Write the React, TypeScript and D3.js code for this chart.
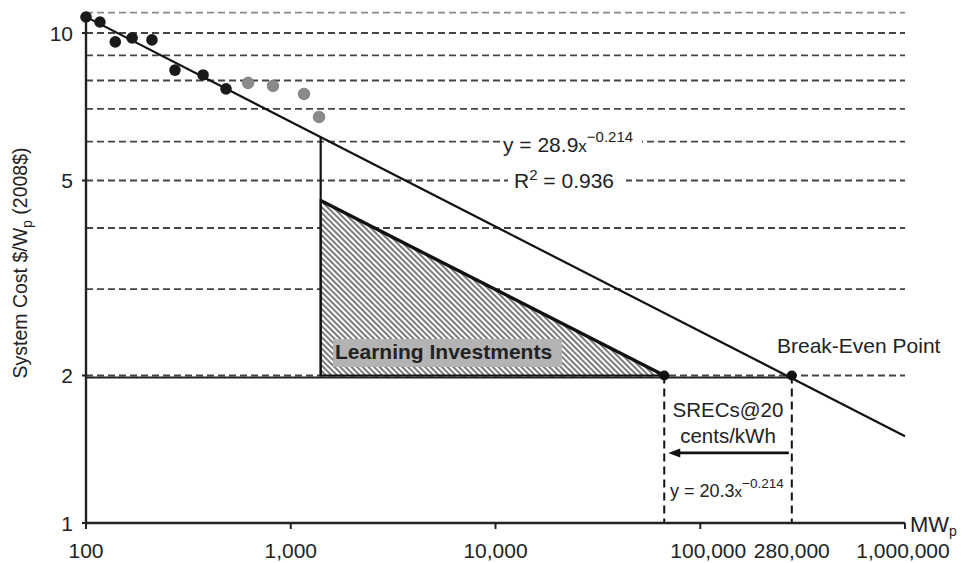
import React from "react";
import * as d3 from "d3";

// ---- data ----
const histX = [100, 117, 139, 168, 210, 272, 373, 483];
const histY = [10.78, 10.53, 9.59, 9.77, 9.68, 8.4, 8.21, 7.69];
const recentX = [619, 819, 1161, 1375];
const recentY = [7.91, 7.8, 7.51, 6.74];
const gridValues = [2, 3, 4, 5, 6, 7, 8, 9, 10, 11];
const yTickValues = [1, 2, 5, 10];
const yTickLabels = ["1", "2", "5", "10"];
const xTickValues = [100, 1000, 10000, 100000, 1000000];
const xLabelValues = [100, 1000, 10000, 100000, 280000, 1000000];
const xLabelTexts = ["100", "1,000", "10,000", "100,000", "280,000", "1,000,000"];
const fitA = 28.9;
const fitB = -0.214;
const fitRange = [100, 1000000];
const learnStartX = 1400;
const learnTopY = 4.55;
const learnEndX = 66700;
const targetCost = 2;
const breakEvenX = 280000;
const arrowY = 1.39;

const W = 971;
const H = 563;
const FONT = "'Liberation Sans', Arial, Helvetica, sans-serif";

export default function App() {
  const x = d3.scaleLog().domain([100, 1000000]).range([86, 905]);
  const y = d3.scaleLog().domain([1, 10]).range([523, 33]);
  const fit = (v: number) => fitA * Math.pow(v, fitB);
  const line = d3
    .line<[number, number]>()
    .x((d) => x(d[0]))
    .y((d) => y(d[1]));

  const fitPts: [number, number][] = fitRange.map((v) => [v, fit(v)]);
  const tri: [number, number][] = [
    [learnStartX, learnTopY],
    [learnEndX, targetCost],
    [learnStartX, targetCost],
  ];
  const hyp: [number, number][] = [
    [learnStartX, learnTopY],
    [learnEndX, targetCost],
  ];

  const xMid = Math.sqrt(learnEndX * breakEvenX);

  return (
    <svg
      width={W}
      height={H}
      style={{ position: "absolute", left: 0, top: 0, background: "#fff" }}
      fontFamily={FONT}
    >
      <defs>
        <pattern
          id="hatch"
          width="4"
          height="4"
          patternUnits="userSpaceOnUse"
          patternTransform="rotate(-45)"
        >
          <rect width="4" height="4" fill="#fff" />
          <line x1="1" y1="0" x2="1" y2="4" stroke="#444" strokeWidth="1.4" />
        </pattern>
      </defs>
      <rect width={W} height={H} fill="#fff" />

      {/* gridlines */}
      {gridValues.map((g) => (
        <line
          key={g}
          x1={x(100)}
          x2={x(1000000)}
          y1={y(g)}
          y2={y(g)}
          stroke={g === 11 ? "#8a8a8a" : "#444"}
          strokeWidth={1.8}
          strokeDasharray="7,4"
        />
      ))}

      {/* learning investment triangle */}
      <path d={line(tri) + "Z"} fill="url(#hatch)" stroke="#111" strokeWidth={2} />
      <path d={line(hyp) || ""} fill="none" stroke="#111" strokeWidth={3.4} />

      {/* vertical from fit line to target */}
      <line
        x1={x(learnStartX)}
        x2={x(learnStartX)}
        y1={y(fit(learnStartX))}
        y2={y(targetCost)}
        stroke="#111"
        strokeWidth={2.2}
      />

      {/* horizontal solid at target cost */}
      <line
        x1={x(100)}
        x2={x(breakEvenX)}
        y1={y(targetCost) + 2}
        y2={y(targetCost) + 2}
        stroke="#222"
        strokeWidth={2.2}
      />

      {/* dashed verticals */}
      {[learnEndX, breakEvenX].map((v) => (
        <line
          key={v}
          x1={x(v)}
          x2={x(v)}
          y1={y(targetCost)}
          y2={y(1)}
          stroke="#111"
          strokeWidth={2}
          strokeDasharray="8,5"
        />
      ))}

      {/* fit line */}
      <path d={line(fitPts) || ""} fill="none" stroke="#111" strokeWidth={2.2} />

      {/* axes */}
      <line x1={x(100)} x2={x(100)} y1={y(1)} y2={y(11)} stroke="#222" strokeWidth={2.4} />
      <line x1={x(100)} x2={x(1000000)} y1={y(1)} y2={y(1)} stroke="#222" strokeWidth={2.4} />
      {yTickValues.map((v) => (
        <line key={v} x1={x(100) - 4} x2={x(100)} y1={y(v)} y2={y(v)} stroke="#222" strokeWidth={2} />
      ))}
      {xTickValues.map((v) => (
        <line key={v} x1={x(v)} x2={x(v)} y1={y(1)} y2={y(1) + 6} stroke="#222" strokeWidth={2} />
      ))}

      {/* tick labels */}
      {yTickValues.map((v, i) => (
        <text
          key={v}
          x={73}
          y={y(v)}
          dy="0.36em"
          textAnchor="end"
          fontSize={21}
          fill="#222"
        >
          {yTickLabels[i]}
        </text>
      ))}
      {xLabelValues.map((v, i) => (
        <text
          key={v}
          x={x(v) + (v === 100000 ? 8 : v === 1000000 ? -2 : 0)}
          y={558}
          textAnchor="middle"
          fontSize={21}
          fill="#222"
        >
          {xLabelTexts[i]}
        </text>
      ))}

      {/* axis titles */}
      <text x={910} y={532} fontSize={22} fill="#222">
        MW
        <tspan fontSize={14} dy={4}>
          p
        </tspan>
      </text>
      <text
        transform="translate(27,263) rotate(-90)"
        textAnchor="middle"
        fontSize={19.5}
        fill="#222"
      >
        System Cost $/W
        <tspan fontSize={14} dy={5}>
          p
        </tspan>
        <tspan dy={-5}> (2008$)</tspan>
      </text>

      {/* data points */}
      {recentX.map((v, i) => (
        <circle key={"r" + i} cx={x(v)} cy={y(recentY[i])} r={5.8} fill="#8a8a8a" stroke="#777" strokeWidth={0.8} />
      ))}
      {histX.map((v, i) => (
        <circle key={"h" + i} cx={x(v)} cy={y(histY[i])} r={5.8} fill="#1a1a1a" />
      ))}

      {/* key points */}
      <circle cx={x(learnEndX)} cy={y(targetCost)} r={5} fill="#111" />
      <circle cx={x(breakEvenX)} cy={y(targetCost)} r={5} fill="#111" />

      {/* equation labels */}
      <rect x={500} y={131} width={142} height={26} fill="#fff" />
      <text x={503} y={152} fontSize={21} fill="#222">
        y = 28.9
        <tspan fontSize={17}>x</tspan>
        <tspan fontSize={15} dy={-10}>−0.214</tspan>
      </text>
      <rect x={508} y={167} width={118} height={27} fill="#fff" />
      <text x={514} y={188} fontSize={21} fill="#222">
        R
        <tspan fontSize={15} dy={-8}>2</tspan>
        <tspan dy={8}> = 0.936</tspan>
      </text>

      {/* learning investments label */}
      <rect x={333} y={339} width={229} height={28} fill="#b3b3b3" />
      <text x={335} y={359} fontSize={21} fontWeight="bold" fill="#222">
        Learning Investments
      </text>

      <text x={777} y={353} fontSize={21} fill="#222">
        Break-Even Point
      </text>

      <text x={x(xMid)} y={417} fontSize={20.5} textAnchor="middle" fill="#222">
        SRECs@20
      </text>
      <text x={x(xMid)} y={443} fontSize={20.5} textAnchor="middle" fill="#222">
        cents/kWh
      </text>

      {/* arrow */}
      <line
        x1={x(breakEvenX) - 3}
        x2={x(learnEndX) + 14}
        y1={y(arrowY)}
        y2={y(arrowY)}
        stroke="#111"
        strokeWidth={2.6}
      />
      <path
        d={`M${x(learnEndX) + 4},${y(arrowY)} L${x(learnEndX) + 16},${y(arrowY) - 4.5} L${x(learnEndX) + 16},${y(arrowY) + 4.5} Z`}
        fill="#111"
      />

      <text x={670} y={497} fontSize={18} fill="#222">
        y = 20.3
        <tspan fontSize={15}>x</tspan>
        <tspan fontSize={13.5} dy={-9}>−0.214</tspan>
      </text>
    </svg>
  );
}
